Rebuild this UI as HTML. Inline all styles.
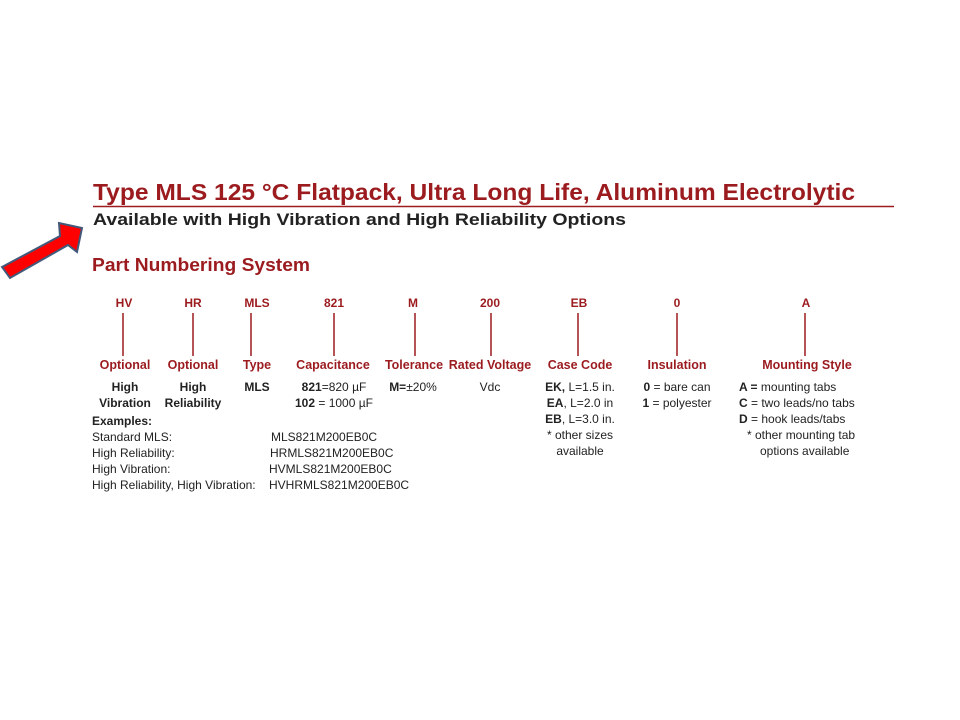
<!DOCTYPE html>
<html><head><meta charset="utf-8"><style>
html,body{margin:0;padding:0;background:#fff;}
svg{display:block;}
text{font-family:"Liberation Sans",sans-serif;}
.r{fill:#9b1b1f;font-weight:bold;}
.b{font-weight:bold;}
</style></head><body>
<svg width="960" height="720" viewBox="0 0 960 720">
<polygon points="2,267 60,236 59,223 82,228 77,252 68,245 10,278" fill="#f00" stroke="#41597a" stroke-width="2" stroke-linejoin="miter"/>
<text x="93" y="200" class="r" font-size="23" textLength="762" lengthAdjust="spacingAndGlyphs">Type MLS 125 °C Flatpack, Ultra Long Life, Aluminum Electrolytic</text>
<line x1="93" y1="206.5" x2="894" y2="206.5" stroke="#9b1b1f" stroke-width="1.5"/>
<text x="93" y="225" class="b" font-size="17" fill="#222" textLength="533" lengthAdjust="spacingAndGlyphs">Available with High Vibration and High Reliability Options</text>
<text x="92" y="271" class="r" font-size="18" textLength="218" lengthAdjust="spacingAndGlyphs">Part Numbering System</text>
<g class="r" font-size="12" text-anchor="middle">
<text x="124" y="307">HV</text><text x="193" y="307">HR</text><text x="257" y="307">MLS</text>
<text x="334" y="307">821</text><text x="413" y="307">M</text><text x="490" y="307">200</text>
<text x="579" y="307">EB</text><text x="677" y="307">0</text><text x="806" y="307">A</text>
</g>
<g stroke="#9b1b1f" stroke-width="1.5">
<line x1="123" y1="313" x2="123" y2="356"/><line x1="193" y1="313" x2="193" y2="356"/>
<line x1="251" y1="313" x2="251" y2="356"/><line x1="334" y1="313" x2="334" y2="356"/>
<line x1="415" y1="313" x2="415" y2="356"/><line x1="491" y1="313" x2="491" y2="356"/>
<line x1="578" y1="313" x2="578" y2="356"/><line x1="677" y1="313" x2="677" y2="356"/>
<line x1="805" y1="313" x2="805" y2="356"/>
</g>
<g class="r" font-size="12.5" text-anchor="middle">
<text x="125" y="369">Optional</text><text x="193" y="369">Optional</text><text x="257" y="369">Type</text>
<text x="333" y="369">Capacitance</text><text x="414" y="369">Tolerance</text><text x="490" y="369">Rated Voltage</text>
<text x="580" y="369">Case Code</text><text x="677" y="369">Insulation</text><text x="807" y="369">Mounting Style</text>
</g>
<g font-size="12" fill="#222" text-anchor="middle">
<text x="125" y="391" class="b">High</text><text x="125" y="407" class="b">Vibration</text>
<text x="193" y="391" class="b">High</text><text x="193" y="407" class="b">Reliability</text>
<text x="257" y="391" class="b">MLS</text>
<text x="334" y="391"><tspan class="b">821</tspan>=820 µF</text>
<text x="334" y="407"><tspan class="b">102</tspan> = 1000 µF</text>
<text x="413" y="391"><tspan class="b">M=</tspan>±20%</text>
<text x="490" y="391">Vdc</text>
<text x="580" y="391"><tspan class="b">EK,</tspan> L=1.5 in.</text>
<text x="580" y="407"><tspan class="b">EA</tspan>, L=2.0 in</text>
<text x="580" y="423"><tspan class="b">EB</tspan>, L=3.0 in.</text>
<text x="580" y="439">* other sizes</text>
<text x="580" y="455">available</text>
<text x="677" y="391"><tspan class="b">0</tspan> = bare can</text>
<text x="677" y="407"><tspan class="b">1</tspan> = polyester</text>
</g>
<g font-size="12" fill="#222">
<text x="739" y="391"><tspan class="b">A =</tspan> mounting tabs</text>
<text x="739" y="407"><tspan class="b">C</tspan> = two leads/no tabs</text>
<text x="739" y="423"><tspan class="b">D</tspan> = hook leads/tabs</text>
<text x="747" y="439">* other mounting  tab</text>
<text x="760" y="455">options available</text>
<text x="92" y="425" class="b">Examples:</text>
<text x="92" y="441">Standard MLS:</text><text x="271" y="441">MLS821M200EB0C</text>
<text x="92" y="457">High Reliability:</text><text x="270" y="457">HRMLS821M200EB0C</text>
<text x="92" y="473">High Vibration:</text><text x="269" y="473">HVMLS821M200EB0C</text>
<text x="92" y="489">High Reliability, High Vibration:</text><text x="269" y="489">HVHRMLS821M200EB0C</text>
</g>
</svg>
</body></html>
